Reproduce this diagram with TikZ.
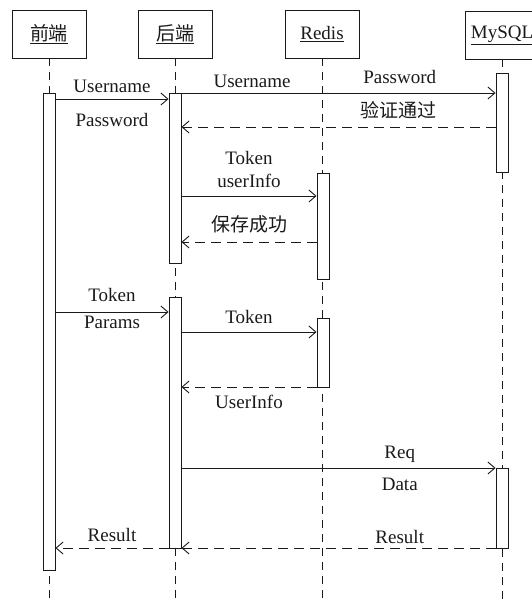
\documentclass[tikz,border=0pt]{standalone}
\usepackage{fontspec}
\setmainfont{Liberation Serif}
\newfontfamily\cjk{Noto Sans CJK SC}
\usetikzlibrary{arrows.meta}
\definecolor{ink}{HTML}{1A1A1A}

\begin{document}
\begin{tikzpicture}[x=1pt, y=-1pt, line width=0.9pt, ink, every node/.style={font=\fontsize{19}{23}\selectfont}, >={Straight Barb[length=7pt,width=12pt]}]
  \tikzset{
    head/.style={draw, fill=white, minimum width=74pt, minimum height=48pt, inner sep=0pt},
    life/.style={dash pattern=on 8pt off 6pt},
    actbar/.style={draw, fill=white, minimum width=12pt, inner sep=0pt},
    msg/.style={->},
    reply/.style={->, dash pattern=on 10pt off 6pt},
    lbl/.style={anchor=base, inner sep=0pt}
  }
  \useasboundingbox (0,0) rectangle (531,600);

  \node (fe) at (49,34) [head] {\underline{\cjk 前端}};
  \node (be) at (175,34) [head] {\underline{\cjk 后端}};
  \node (rd) at (322,34) [head] {\underline{Redis}};
  \node (my) at (502,35) [head] {\underline{MySQL}};

  \draw[life] (fe.south) -- (fe.south |- 0,605);
  \draw[life] (be.south) -- (be.south |- 0,605);
  \draw[life] (rd.south) -- (rd.south |- 0,605);
  \draw[life] (my.south) -- (my.south |- 0,605);

  \node (fe1) at (49,331.5) [actbar, minimum height=477pt] {};
  \node (be1) at (175,178) [actbar, minimum height=170pt] {};
  \node (be2) at (175,422.5) [actbar, minimum height=251pt] {};
  \node (rd1) at (323,226) [actbar, minimum height=106pt] {};
  \node (rd2) at (323,352.5) [actbar, minimum height=69pt] {};
  \node (my1) at (502,122.5) [actbar, minimum height=99pt] {};
  \node (my2) at (502,508) [actbar, minimum height=80pt] {};

  \draw[msg] (fe1.east |- 0,99) -- (be1.west |- 0,99)
    node[lbl, midway, yshift=7pt] {Username}
    node[lbl, midway, yshift=-27pt] {Password};
  \draw[msg] (be1.east |- 0,93) -- (my1.west |- 0,93)
    node[lbl, pos=0.225, yshift=6pt] {Username}
    node[lbl, pos=0.695, yshift=10pt] {Password};
  \draw[reply] (my1.west |- 0,127) -- (be1.east |- 0,127)
    node[lbl, pos=0.31, yshift=10pt] {\cjk 验证通过};
  \draw[msg] (be1.east |- 0,196) -- (rd1.west |- 0,196)
    node[midway, above=8pt, inner sep=0pt, align=center] {Token\\userInfo};
  \draw[reply] (rd1.west |- 0,242) -- (be1.east |- 0,242)
    node[lbl, midway, yshift=11pt] {\cjk 保存成功};

  \draw[msg] (fe1.east |- 0,312) -- (be2.west |- 0,312)
    node[lbl, midway, yshift=11pt] {Token}
    node[lbl, midway, yshift=-16pt] {Params};
  \draw[msg] (be2.east |- 0,332) -- (rd2.west |- 0,332)
    node[lbl, midway, yshift=9pt] {Token};
  \draw[reply] (rd2.west |- 0,387) -- (be2.east |- 0,387)
    node[lbl, midway, yshift=-21pt] {UserInfo};
  \draw[msg] (be2.east |- 0,468) -- (my2.west |- 0,468)
    node[lbl, pos=0.695, yshift=10pt] {Req}
    node[lbl, pos=0.695, yshift=-22pt] {Data};
  \draw[reply] (my2.west |- 0,548) -- (be2.east |- 0,548)
    node[lbl, pos=0.305, yshift=5pt] {Result};
  \draw[reply] (be2.west |- 0,548) -- (fe1.east |- 0,548)
    node[lbl, midway, yshift=7pt] {Result};
\end{tikzpicture}
\end{document}
